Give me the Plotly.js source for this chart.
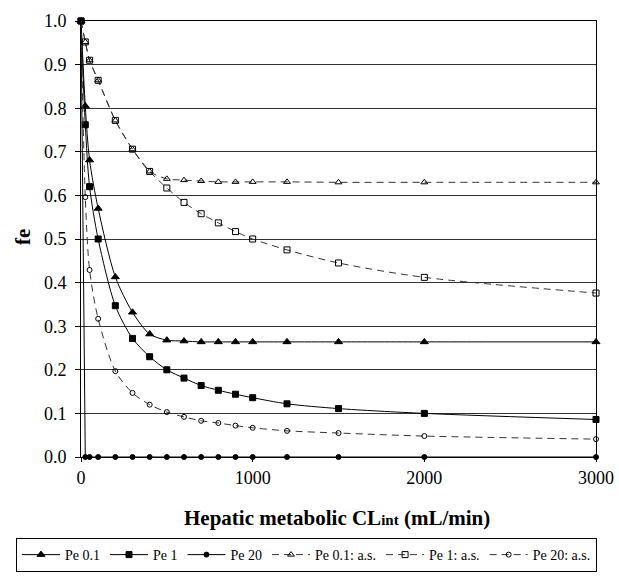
<!DOCTYPE html>
<html>
<head>
<meta charset="utf-8">
<script src="https://cdn.plot.ly/plotly-3.0.1.min.js"></script>
<style>
  html, body { margin: 0; padding: 0; background: #fff; }
  #chart { width: 619px; height: 580px; }
</style>
</head>
<body>
<div id="chart"></div>
<script>
// Hepatic intrinsic clearance (mL/min)
const clint = [0, 25, 50, 100, 200, 300, 400, 500, 600, 700, 800, 900, 1000, 1200, 1500, 2000, 3000];

// fe for each dispersion number (Pe), full model
const pe01 = [1.0, 0.805, 0.681, 0.570, 0.413, 0.332, 0.282, 0.268, 0.266, 0.264, 0.264, 0.264, 0.264, 0.264, 0.264, 0.264, 0.264];
const pe1  = [1.0, 0.762, 0.620, 0.500, 0.347, 0.272, 0.230, 0.200, 0.181, 0.164, 0.153, 0.144, 0.136, 0.122, 0.111, 0.100, 0.086];
const pe20 = [1.0, 0.0, 0.0, 0.0, 0.0, 0.0, 0.0, 0.0, 0.0, 0.0, 0.0, 0.0, 0.0, 0.0, 0.0, 0.0, 0.0];

// fe for each Pe, a.s. approximation
const pe01as = [1.0, 0.952, 0.910, 0.864, 0.772, 0.706, 0.655, 0.638, 0.635, 0.633, 0.631, 0.631, 0.631, 0.631, 0.630, 0.630, 0.630];
const pe1as  = [1.0, 0.952, 0.910, 0.864, 0.772, 0.706, 0.655, 0.617, 0.584, 0.558, 0.537, 0.517, 0.500, 0.475, 0.445, 0.412, 0.376];
const pe20as = [1.0, 0.596, 0.429, 0.317, 0.197, 0.147, 0.120, 0.103, 0.092, 0.083, 0.078, 0.072, 0.067, 0.060, 0.055, 0.048, 0.041];

const seriesNames = ['Pe 0.1', 'Pe 1', 'Pe 20', 'Pe 0.1: a.s.', 'Pe 1: a.s.', 'Pe 20: a.s.'];
const xTitle = '<b>Hepatic metabolic CL<span style="font-size:15px">int</span> (mL/min)</b>';
const yTitle = '<b>fe</b>';

function trace(y, name, symbol, size, dashed, shape) {
  return {
    x: clint, y: y, name: name, type: 'scatter', mode: 'lines+markers',
    cliponaxis: false,
    line: { color: dashed ? '#333' : '#000', width: 1, dash: dashed ? '7px,5px' : 'solid', shape: shape || 'spline', smoothing: 0.8 },
    marker: { symbol: symbol, size: size, color: '#000', line: { color: '#000', width: 1 } }
  };
}

const data = [
  trace(pe01, seriesNames[0], 'triangle-up', 7, false),
  trace(pe1, seriesNames[1], 'square', 6, false),
  trace(pe20, seriesNames[2], 'circle', 5, false, 'linear'),
  trace(pe01as, seriesNames[3], 'triangle-up-open', 6, true),
  trace(pe1as, seriesNames[4], 'square-open', 6, true),
  trace(pe20as, seriesNames[5], 'circle-open', 5, true)
];

const serif = 'Liberation Serif';

const layout = {
  width: 619, height: 580,
  margin: { l: 81, r: 23, t: 21, b: 123, autoexpand: false },
  paper_bgcolor: '#fff', plot_bgcolor: '#fff',
  font: { family: serif, color: '#000', size: 18 },
  showlegend: true,
  xaxis: {
    range: [0, 3000], dtick: 1000, tick0: 0,
    showgrid: false, zeroline: false,
    showline: true, mirror: true, linecolor: '#000', linewidth: 1,
    ticks: 'outside', ticklen: 4, tickcolor: '#000',
    tickfont: { family: serif, size: 18, color: '#000' }
  },
  yaxis: {
    range: [0, 1], dtick: 0.1, tick0: 0, tickformat: '.1f',
    showgrid: true, gridcolor: '#333', gridwidth: 1,
    zeroline: false,
    showline: true, mirror: true, linecolor: '#000', linewidth: 1,
    ticks: 'outside', ticklen: 5, tickcolor: '#000',
    ticklabelstandoff: 5,
    tickfont: { family: serif, size: 18, color: '#000' }
  },
  // axis titles placed as annotations for exact positioning
  annotations: [
    { text: xTitle, xref: 'paper', yref: 'paper', x: 0.497, y: -0.140,
      xanchor: 'center', yanchor: 'middle', showarrow: false,
      font: { family: serif, size: 21, color: '#000' } },
    { text: yTitle, xref: 'paper', yref: 'paper', x: -0.1126, y: 0.5046,
      xanchor: 'center', yanchor: 'middle', showarrow: false, textangle: -90,
      font: { family: serif, size: 21, color: '#000' } }
  ],
  legend: {
    orientation: 'h', x: -0.1262, xanchor: 'left', xref: 'paper',
    y: -0.2638, yanchor: 'bottom', yref: 'paper',
    bordercolor: '#000', borderwidth: 1, bgcolor: '#fff',
    font: { family: serif, size: 14, color: '#000' },
    itemwidth: 38, tracegroupgap: 0
  }
};

Plotly.newPlot('chart', data, layout, { displayModeBar: false, staticPlot: true });
</script>
</body>
</html>
